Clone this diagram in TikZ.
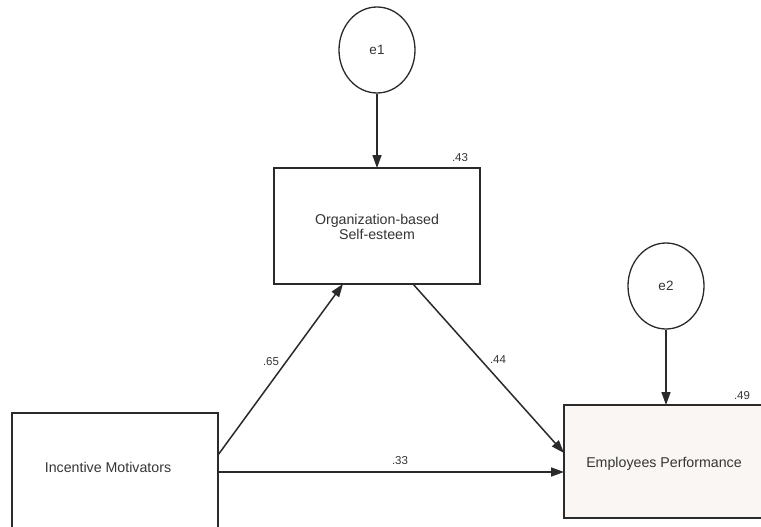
\documentclass[tikz,border=0pt]{standalone}
\usepackage{fontspec}
\setmainfont{Liberation Sans}
\usetikzlibrary{arrows.meta,shapes.geometric}
\definecolor{ink}{HTML}{2A2A2A}
\definecolor{txt}{HTML}{353535}
\definecolor{epfill}{HTML}{FAF6F3}
\begin{document}
\begin{tikzpicture}[x=1pt,y=-1pt,
  box/.style={draw=ink,line width=1.6pt,rectangle,inner sep=0pt},
  err/.style={draw=ink,line width=1.3pt,ellipse,minimum width=76pt,minimum height=86pt,inner sep=0pt,font=\fontsize{13.5}{15}\selectfont,text=txt},
  conn/.style={draw=ink,line width=1.5pt,-{Triangle[length=13pt,width=9pt]}},
  lbl/.style={font=\fontsize{11.5}{13}\selectfont,text=txt,inner sep=0pt},
  vlabel/.style={font=\fontsize{14.2}{16}\selectfont,text=txt,align=center}]
\useasboundingbox (0,0) rectangle (761,527);
\fill[white] (0,0) rectangle (761,527);
% boxes
\node[box,minimum width=206pt,minimum height=116pt] (obse) at (377,226) {};
\node[vlabel] (obset) at (377,227) {Organization-based\\[-1pt]Self-esteem};
\node[box,fill=epfill,minimum width=210pt,minimum height=113pt] (ep) at (669,461.5) {};
\node[vlabel] (ept) at (664,464) {Employees Performance};
\node[box,minimum width=206pt,minimum height=130pt] (im) at (115,478) {};
\node[vlabel] (imt) at (108,467) {Incentive Motivators};
% error terms
\node[err] (e1) at (377,50) {e1};
\node[err] (e2) at (666,286) {e2};
% anchor coordinates
\coordinate (obseT) at (377,168);
\coordinate (obseBL) at (343,284);
\coordinate (obseBR) at (413,284);
\coordinate (epT) at (666,405);
\coordinate (epL1) at (564,453);
\coordinate (epL2) at (564,472);
\coordinate (imR1) at (218,455);
\coordinate (imR2) at (218,472);
% paths
\draw[conn] (e1) -- (obseT);
\draw[conn] (e2) -- (epT);
\draw[conn] (imR1) -- (obseBL);
\draw[conn] (obseBR) -- (epL1);
\draw[conn] (imR2) -- (epL2);
% labels
\node[lbl] (r43) at (460,158) {.43};
\node[lbl] (r49) at (742,396) {.49};
\node[lbl] (c65) at (271,362) {.65};
\node[lbl] (c44) at (498,360) {.44};
\node[lbl] (c33) at (400,461) {.33};
\end{tikzpicture}
\end{document}
